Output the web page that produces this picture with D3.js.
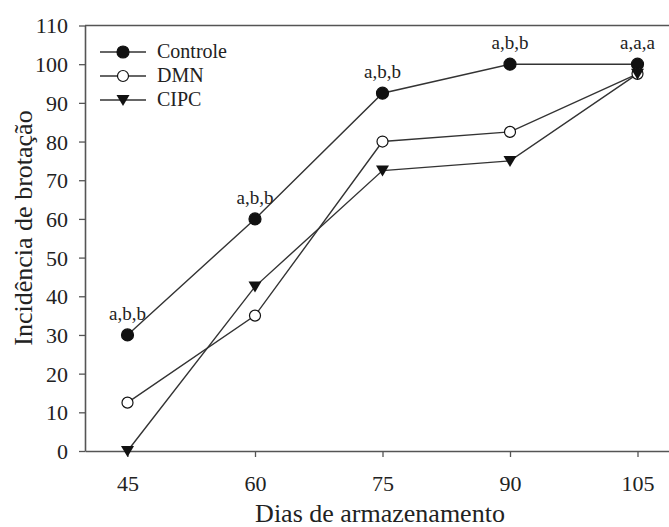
<!DOCTYPE html>
<html>
<head>
<meta charset="utf-8">
<script src="https://cdn.jsdelivr.net/npm/d3@7"></script>
<style>
  body { margin: 0; background: #fff; }
  svg { display: block; }
  svg text { font-family: "Liberation Serif", "Times New Roman", serif; }
</style>
</head>
<body>
<div id="chart"></div>
<script>
const days = [45, 60, 75, 90, 105];
const controle = [30, 60, 92.5, 100, 100];
const dmn = [12.5, 35, 80, 82.5, 97.5];
const cipc = [0, 42.5, 72.5, 75, 97.5];
const letters = ['a,b,b', 'a,b,b', 'a,b,b', 'a,b,b', 'a,a,a'];
const yTicks = [0, 10, 20, 30, 40, 50, 60, 70, 80, 90, 100, 110];
const seriesNames = ['Controle', 'DMN', 'CIPC'];

const W = 669, H = 527;
const ink = '#333';

const svg = d3.select('#chart').append('svg')
  .attr('width', W).attr('height', H);

const x = d3.scaleLinear().domain([40, 110]).range([85, 680]);
const y = d3.scaleLinear().domain([0, 110]).range([451, 25.5]);

// frame top line
svg.append('line')
  .attr('x1', x(40)).attr('x2', x(110))
  .attr('y1', y(110)).attr('y2', y(110))
  .attr('stroke', '#555').attr('stroke-width', 1.6);

// Axes
const xAxis = svg.append('g')
  .attr('transform', `translate(0,${y(0)})`)
  .call(d3.axisBottom(x).tickValues(days).tickSize(6).tickSizeOuter(0));
xAxis.select('.domain').attr('stroke', '#555').attr('stroke-width', 1.6);
xAxis.selectAll('line').attr('stroke', '#555').attr('stroke-width', 1.3);
xAxis.selectAll('text')
  .attr('y', 40).attr('dy', 0)
  .attr('fill', '#222').style('font-size', '22px');

const yAxis = svg.append('g')
  .attr('transform', `translate(${x(40)},0)`)
  .call(d3.axisLeft(y).tickValues(yTicks).tickSize(6).tickSizeOuter(0).tickPadding(11));
yAxis.select('.domain').attr('stroke', '#555').attr('stroke-width', 1.6);
yAxis.selectAll('line').attr('stroke', '#555').attr('stroke-width', 1.3);
yAxis.selectAll('text')
  .attr('dy', '0.34em')
  .attr('fill', '#222').style('font-size', '22px');

// Axis titles
svg.append('text')
  .attr('x', 380).attr('y', 522)
  .attr('text-anchor', 'middle')
  .attr('fill', '#222').style('font-size', '26px')
  .text('Dias de armazenamento');

svg.append('text')
  .attr('transform', 'translate(32,228) rotate(-90)')
  .attr('text-anchor', 'middle')
  .attr('fill', '#222').style('font-size', '26px')
  .text('Incidência de brotação');

// Series
const series = [
  { name: seriesNames[0], values: controle, shape: 'filled' },
  { name: seriesNames[1], values: dmn, shape: 'open' },
  { name: seriesNames[2], values: cipc, shape: 'tri' }
];

const line = d3.line()
  .x((d, i) => x(days[i]))
  .y(d => y(d));

function marker(g, shape, cx, cy) {
  if (shape === 'tri') {
    g.append('path')
      .attr('d', `M${cx - 6.5},${cy - 5} L${cx + 6.5},${cy - 5} L${cx},${cy + 6} Z`)
      .attr('fill', '#111');
  } else {
    g.append('circle')
      .attr('cx', cx).attr('cy', cy)
      .attr('r', shape === 'filled' ? 6 : 5.5)
      .attr('fill', shape === 'filled' ? '#111' : '#fff')
      .attr('stroke', '#111').attr('stroke-width', 1.2);
  }
}

series.forEach(s => {
  svg.append('path')
    .datum(s.values)
    .attr('fill', 'none')
    .attr('stroke', ink)
    .attr('stroke-width', 1.4)
    .attr('d', line);
});

series.forEach(s => {
  const g = svg.append('g');
  s.values.forEach((v, i) => marker(g, s.shape, x(days[i]), y(v)));
});

// Letters above Controle points
svg.selectAll('text.letter')
  .data(letters).enter()
  .append('text')
  .attr('class', 'letter')
  .attr('x', (d, i) => x(days[i]))
  .attr('y', (d, i) => y(controle[i]) - 15)
  .attr('text-anchor', 'middle')
  .attr('fill', '#222').style('font-size', '19px')
  .text(d => d);

// Legend
const legend = svg.append('g').attr('transform', 'translate(100,52)');
series.forEach((s, i) => {
  const row = legend.append('g').attr('transform', `translate(0,${i * 24})`);
  row.append('line')
    .attr('x1', 0).attr('x2', 46)
    .attr('stroke', ink).attr('stroke-width', 1.4);
  marker(row, s.shape, 23, 0);
  row.append('text')
    .attr('x', 57).attr('y', 6)
    .attr('fill', '#222').style('font-size', '20px')
    .text(s.name);
});
</script>
</body>
</html>
